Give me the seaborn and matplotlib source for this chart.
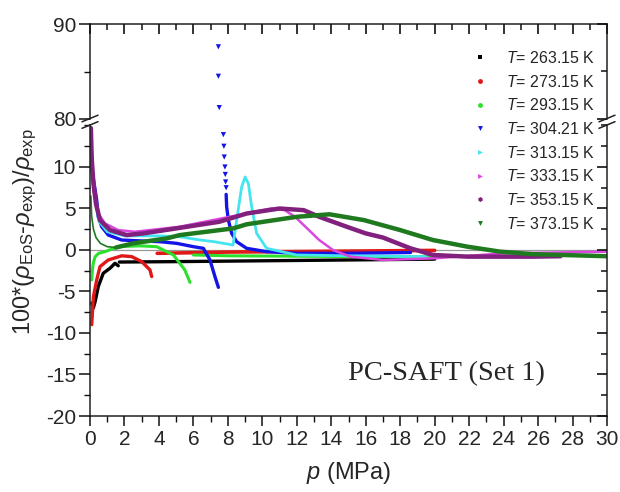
import numpy as np
import pandas as pd
import matplotlib
matplotlib.use("Agg")
import matplotlib.pyplot as plt
from matplotlib.lines import Line2D
from matplotlib.ticker import MultipleLocator
import seaborn as sns

# ---------------- data ----------------
temps = ["263.15", "273.15", "293.15", "304.21", "313.15", "333.15", "353.15", "373.15"]
colors = ["#000000", "#E01818", "#2EE02E", "#1414E6", "#44E4F0", "#DC46E0", "#82207E", "#1F7A1F"]
legend_markers = ["s", "o", "o", "v", ">", ">", "h", "v"]

p_263_v = [0.10, 0.19, 0.30, 0.48, 0.77, 1.16, 1.45, 1.64]
d_263_v = [-6.4, -7.0, -6.2, -4.4, -2.8, -2.2, -1.6, -1.9]
p_263_l = [1.70, 5.0, 10.0, 15.0, 20.0]
d_263_l = [-1.45, -1.4, -1.3, -1.2, -1.1]

p_273_v = [0.10, 0.15, 0.20, 0.39, 0.58, 1.06, 1.84, 2.42, 3.00, 3.48, 3.58]
d_273_v = [-9.0, -7.2, -5.6, -3.6, -2.0, -1.2, -0.7, -0.8, -1.4, -2.4, -3.2]
p_273_l = [3.9, 8.0, 14.0, 20.0]
d_273_l = [-0.4, -0.25, -0.15, -0.05]

p_293_v = [0.10, 0.15, 0.20, 0.30, 0.50, 0.87, 1.64, 2.90, 3.87, 4.84, 5.50, 5.80]
d_293_v = [-3.6, -2.2, -1.5, -0.8, -0.4, -0.2, 0.4, 0.5, 0.4, -0.6, -2.4, -3.9]
p_293_l = [6.0, 8.0, 12.0, 16.0, 20.0]
d_293_l = [-0.6, -0.7, -0.75, -0.8, -0.8]

p_304_v = [0.05, 0.10, 0.20, 0.39, 0.48, 0.68, 1.06, 1.84, 2.90, 4.06, 5.03, 6.00, 6.58, 6.96, 7.25, 7.45]
d_304_v = [11.0, 10.0, 8.5, 6.0, 4.0, 2.8, 1.8, 1.2, 1.1, 1.0, 0.8, 0.4, 0.2, -1.2, -3.2, -4.5]
p_304_spike = [7.45, 7.45, 7.50, 7.74, 7.77, 7.79, 7.83, 7.85, 7.87, 7.90]
d_304_spike = [87.6, 84.5, 81.2, 13.9, 12.5, 11.2, 10.0, 9.1, 8.2, 7.5]
p_304_l = [7.90, 7.93, 8.03, 8.22, 8.51, 9.09, 10.25, 12.0, 15.0, 18.6]
d_304_l = [6.7, 5.2, 3.6, 2.0, 1.0, 0.2, -0.2, -0.4, -0.4, -0.3]

p_313 = [0.08, 0.15, 0.30, 0.50, 1.0, 2.0, 4.0, 5.2, 6.4, 7.2, 8.3, 8.51, 8.80, 9.00, 9.19, 9.38, 9.67, 10.25, 12.0, 15.0, 19.5]
d_313 = [12.4, 9.3, 6.5, 3.5, 2.2, 1.7, 1.7, 1.6, 1.2, 1.0, 0.6, 3.6, 7.6, 8.8, 8.0, 5.2, 2.0, 0.2, -0.6, -0.7, -0.8]

p_333 = [0.08, 0.20, 0.48, 0.87, 1.64, 2.6, 5.2, 8.1, 10.5, 11.3, 11.9, 12.5, 13.3, 14.1, 15.1, 17.0, 20.0, 24.0, 30.0]
d_333 = [13.0, 7.2, 4.4, 3.2, 2.4, 2.2, 2.8, 4.0, 5.0, 4.8, 4.0, 2.8, 1.2, 0.0, -0.8, -1.2, -1.0, -0.4, -0.2]

p_353 = [0.05, 0.10, 0.20, 0.35, 0.58, 1.16, 2.13, 3.1, 5.0, 7.5, 9.1, 11.0, 12.4, 13.3, 14.9, 16.0, 17.0, 18.6, 19.9, 21.9, 25.7, 27.3]
d_353 = [14.7, 11.0, 8.0, 5.5, 3.6, 2.4, 1.8, 2.0, 2.6, 3.4, 4.4, 5.0, 4.8, 4.0, 2.8, 2.0, 1.5, 0.2, -0.6, -0.8, -0.8, -0.75]

p_373_low = [0.05, 0.10, 0.20, 0.35, 0.60, 1.0, 1.5]
d_373_low = [6.5, 4.0, 2.5, 1.5, 0.8, 0.4, 0.3]
p_373 = [1.5, 2.5, 4.45, 5.22, 8.3, 9.1, 12.0, 13.9, 15.9, 18.0, 19.9, 21.9, 23.8, 25.7, 30.0]
d_373 = [0.3, 0.8, 1.4, 1.8, 2.6, 3.1, 4.0, 4.3, 3.6, 2.4, 1.2, 0.4, -0.2, -0.5, -0.75]

x_ticks = list(range(0, 31, 2))
y_ticks_low = [-20, -15, -10, -5, 0, 5, 10]
y_ticks_top = [80, 90]

segments = [
    ("263.15", p_263_v, d_263_v, 2.4), ("263.15", p_263_l, d_263_l, 2.4),
    ("273.15", p_273_v, d_273_v, 2.4), ("273.15", p_273_l, d_273_l, 2.6),
    ("293.15", p_293_v, d_293_v, 2.2), ("293.15", p_293_l, d_293_l, 2.2),
    ("304.21", p_304_v, d_304_v, 2.4), ("304.21", p_304_l, d_304_l, 2.4),
    ("313.15", p_313, d_313, 2.0),
    ("333.15", p_333, d_333, 1.8),
    ("353.15", p_353, d_353, 3.2),
    ("373.15", p_373_low, d_373_low, 1.2), ("373.15", p_373, d_373, 3.2),
]
rows = []
for i, (t, pp, dd, w) in enumerate(segments):
    for a, b in zip(pp, dd):
        rows.append({"T": t, "seg": i, "p": a, "dev": b})
df = pd.DataFrame(rows)
cmap = dict(zip(temps, colors))

# ---------------- style ----------------
sns.set_style("ticks")
plt.rcParams["font.family"] = ["Liberation Sans", "DejaVu Sans"]
plt.rcParams["mathtext.fontset"] = "custom"
plt.rcParams["mathtext.rm"] = "Liberation Sans"
plt.rcParams["mathtext.it"] = "Liberation Sans:italic"
plt.rcParams["mathtext.bf"] = "Liberation Sans:bold"
plt.rcParams["axes.unicode_minus"] = False
plt.rcParams["axes.axisbelow"] = False

FW, FH = 620, 492
fig = plt.figure(figsize=(FW / 100, FH / 100), dpi=100)
L, R = 90, 607
ax_top = fig.add_axes([L / FW, (FH - 119) / FH, (R - L) / FW, 95 / FH])
ax = fig.add_axes([L / FW, (FH - 416) / FH, (R - L) / FW, 291 / FH])

INK = "#222222"
for a in (ax, ax_top):
    a.axhline(0, color="#9a9a9a", lw=0.9, zorder=0)
    for seg_id, sub in df.groupby("seg"):
        t = sub["T"].iloc[0]
        sns.lineplot(data=sub, x="p", y="dev", color=cmap[t], lw=segments[seg_id][3],
                     sort=False, estimator=None, ax=a, legend=False, zorder=2)
    sns.scatterplot(x=p_304_spike, y=d_304_spike, marker="v", s=14,
                    color=cmap["304.21"], edgecolor="none", ax=a, legend=False, zorder=3)
    a.set_xlim(0, 30)
    a.set_xlabel("")
    a.set_ylabel("")
    a.set_axisbelow(False)
    for s in a.spines.values():
        s.set_linewidth(1.1)
        s.set_color(INK)

ax.set_ylim(-20, 15.06)
ax_top.set_ylim(80, 90)
ax.spines["top"].set_visible(False)
ax_top.spines["bottom"].set_visible(False)

ax.set_xticks(x_ticks)
ax.xaxis.set_minor_locator(MultipleLocator(1))
ax.set_yticks(y_ticks_low)
ax.yaxis.set_minor_locator(MultipleLocator(2.5))
ax_top.set_xticks(x_ticks)
ax_top.xaxis.set_minor_locator(MultipleLocator(1))
ax_top.set_yticks(y_ticks_top)
ax_top.yaxis.set_minor_locator(MultipleLocator(5))


# break marks
def fx(px):
    return px / FW


def fy(py):
    return (FH - py) / FH


for xc in (L, R):
    for yc in (118.5, 125):
        fig.add_artist(Line2D([fx(xc - 8), fx(xc + 8)], [fy(yc + 3.3), fy(yc - 3.3)],
                              color=INK, lw=1.1, transform=fig.transFigure))

# labels
ax.set_xlabel("$p$ (MPa)", fontsize=17, labelpad=8)
fig.text(fx(25), fy(232),
         r"100*($\rho_{\mathrm{EoS}}$-$\rho_{\mathrm{exp}}$)/$\rho_{\mathrm{exp}}$",
         rotation=90, ha="center", va="center", fontsize=17)
fig.text(fx(446), fy(374), "PC-SAFT (Set 1)", ha="center", va="center",
         fontsize=20.5, family=["Liberation Serif", "DejaVu Serif"])

# legend
handles = [Line2D([], [], ls="none", marker=m, color=c, markersize=3.5, markeredgewidth=0)
           for m, c in zip(legend_markers, colors)]
labels = [f"$T$= {t} K" for t in temps]
fig.legend(handles, labels, loc="upper left", bbox_to_anchor=(fx(464), fy(42)),
           frameon=False, fontsize=11.5, handlelength=1.0, handletextpad=1.1,
           labelspacing=0.48, borderpad=0)

# ---------------- ticks (set last) ----------------
TK = "#111111"
ax.tick_params(axis="x", which="major", bottom=True, top=False, direction="out",
               length=7, width=1.1, color=TK, labelsize=15, pad=3)
ax.tick_params(axis="x", which="minor", bottom=True, top=False, direction="out",
               length=4, width=1.0, color=TK)
ax.tick_params(axis="y", which="major", left=True, right=False, direction="out",
               length=8, width=1.1, color=TK, labelsize=15, pad=2)
ax.tick_params(axis="y", which="minor", left=True, right=False, direction="out",
               length=4, width=1.0, color=TK)

ax_top.tick_params(axis="x", which="major", top=True, bottom=False, labeltop=False,
                   labelbottom=False, direction="in", length=7, width=1.2, color=TK)
ax_top.tick_params(axis="x", which="minor", top=True, bottom=False,
                   direction="in", length=4, width=1.1, color=TK)
ax_top.tick_params(axis="y", which="major", left=True, right=False, direction="out",
                   length=8, width=1.1, color=TK, labelsize=15, pad=2)
ax_top.tick_params(axis="y", which="minor", left=True, right=False, direction="out",
                   length=4, width=1.0, color=TK)
ax_top.xaxis.set_zorder(6)

# right-hand mirrored ticks (inward) on twin axes, created last
axr = ax.twinx()
axr.set_ylim(ax.get_ylim())
axr.set_yticks(y_ticks_low)
axr.yaxis.set_minor_locator(MultipleLocator(2.5))
axr2 = ax_top.twinx()
axr2.set_ylim(ax_top.get_ylim())
axr2.set_yticks(y_ticks_top)
axr2.yaxis.set_minor_locator(MultipleLocator(5))
for tw in (axr, axr2):
    tw.set_axisbelow(False)
    for s in tw.spines.values():
        s.set_visible(False)
    tw.tick_params(axis="y", which="major", left=False, right=True, labelright=False,
                   labelleft=False, direction="in", length=7, width=1.2, color=TK)
    tw.tick_params(axis="y", which="minor", left=False, right=True,
                   direction="in", length=4, width=1.1, color=TK)
    tw.yaxis.set_zorder(6)

fig.savefig("out.png", dpi=100)
